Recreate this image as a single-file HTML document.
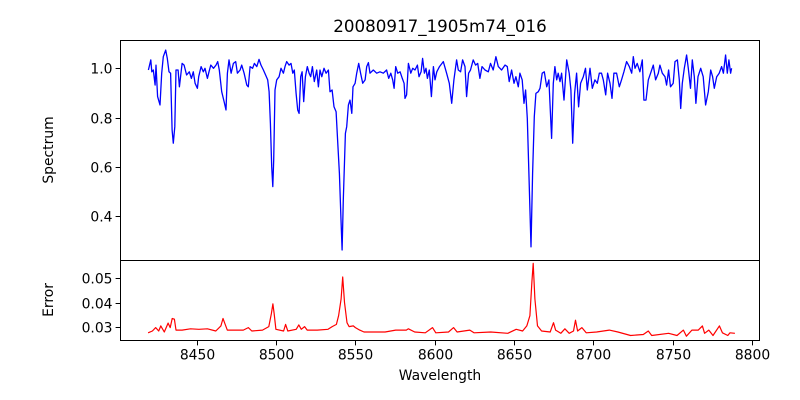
<!DOCTYPE html>
<html><head><meta charset="utf-8"><style>
body{margin:0;background:#fff}
svg{display:block;font-family:"DejaVu Sans","Liberation Sans",sans-serif}
</style></head><body>
<svg id="chart" width="800" height="400" xmlns="http://www.w3.org/2000/svg">
<rect width="800" height="400" fill="#fff"/>
<text x="440" y="32" text-anchor="middle" font-size="16.7">20080917_1905m74_016</text>
<text transform="translate(53,150) rotate(-90)" text-anchor="middle" font-size="13.9">Spectrum</text>
<text transform="translate(53,300) rotate(-90)" text-anchor="middle" font-size="13.9">Error</text>
<text x="440" y="380" text-anchor="middle" font-size="13.9">Wavelength</text>
<g id="g"></g>
</svg>
<script>
const specW=[8419.5,8421,8421.6,8422.6,8423.7,8424.3,8425.3,8426.8,8427.9,8428.9,8430.4,8431.4,8432.5,8433.5,8434.4,8435.2,8436.1,8436.9,8438.2,8439,8440.7,8442,8443.6,8445.3,8446.6,8447.8,8448.9,8450.4,8451.2,8452.7,8454.1,8455.2,8456.7,8457.7,8458.8,8460.5,8462.1,8463.2,8464.2,8465.7,8467.2,8468.4,8469.3,8470.3,8471.6,8473.1,8474.5,8475.6,8477.3,8478.3,8479.8,8481.5,8482.5,8483.6,8485.2,8486.3,8487.8,8489.2,8490.5,8492,8493.4,8494.7,8495.6,8496.4,8497.2,8497.9,8498.5,8499.3,8500.4,8501.9,8503.1,8504.6,8505.6,8506.7,8508.2,8509.4,8510.5,8511.5,8512.6,8513.6,8514.5,8515.5,8516.4,8517.4,8518.5,8519.7,8520.8,8521.8,8522.9,8524.1,8525.6,8526.7,8527.7,8528.8,8530.2,8531.5,8533,8534,8535.3,8536.5,8537.8,8538.8,8539.9,8540.9,8541.6,8542.4,8543.7,8544.5,8545.6,8546.6,8547.7,8548.5,8549.8,8550.8,8552.1,8553.3,8554.6,8556.1,8557.1,8558.2,8559.2,8561.3,8563.4,8565.5,8567.6,8569.7,8571,8572.3,8573.5,8574.4,8575.4,8576.7,8578.2,8579.6,8580.7,8581.3,8582.3,8583.4,8584.9,8586.1,8587.6,8589.1,8590.1,8591.4,8592.4,8593.5,8594.5,8595.4,8596.6,8597.9,8599.2,8600.2,8601.3,8603,8605.4,8607.5,8609.2,8610.7,8612.1,8613.8,8614.9,8616.3,8617.6,8619.1,8620.1,8621.4,8622.6,8624.3,8625.8,8627.1,8628.5,8629.8,8631.7,8633.8,8635.2,8636.9,8638.6,8640.1,8642.2,8644.3,8645.8,8647,8648.5,8650,8651.2,8652.7,8653.7,8655.2,8656.3,8657.3,8658.4,8659.4,8660.7,8661.7,8662.8,8663.8,8665.3,8666.4,8667.8,8669.1,8670.6,8672,8673.7,8674.8,8675.8,8676.9,8677.9,8679,8680,8681.5,8683.2,8684.8,8685.9,8687,8688.2,8689.5,8690.7,8692,8693.7,8695.1,8696.2,8697.9,8699.4,8701,8702.5,8703.8,8705.2,8706.3,8707.8,8709,8710.5,8711.8,8713,8714.7,8716.4,8717.8,8719.3,8721,8722.7,8724.2,8725.2,8726.3,8727.7,8729.4,8730.9,8731.9,8733.2,8734.7,8736.1,8737.8,8739.3,8741,8742,8743.5,8745.2,8746.2,8747.5,8748.7,8750.4,8751.5,8753,8754.2,8755.1,8756.1,8757.4,8758.8,8759.9,8761.3,8762.4,8763.7,8764.7,8766,8767.7,8769.3,8770.8,8772.5,8774,8775.2,8776.3,8777.8,8779.4,8780.9,8782,8783.4,8784.5,8785.5,8786.6,8787.2];
const specF=[0.993,1.034,0.986,0.993,0.932,1.013,0.885,0.851,0.980,1.047,1.074,1.04,0.986,0.980,0.750,0.696,0.763,0.993,0.993,0.925,1.020,1.013,0.973,0.986,0.959,0.986,0.939,0.919,0.966,1.007,0.986,1.0,0.959,0.986,1.013,1.0,1.013,1.027,0.993,0.905,0.865,0.831,0.980,1.034,0.980,1.020,1.027,0.980,0.993,1.013,0.980,0.932,0.925,1.007,1.0,1.020,1.007,1.036,1.013,0.993,0.973,0.953,0.905,0.777,0.601,0.520,0.628,0.912,0.953,0.966,1.0,0.980,1.007,1.027,1.013,1.020,0.980,0.993,0.898,0.831,0.817,0.966,0.986,0.865,0.966,1.007,0.980,0.966,1.007,0.946,0.993,0.925,0.993,0.966,1.0,0.980,0.993,0.905,0.912,0.844,0.824,0.709,0.574,0.385,0.263,0.466,0.736,0.763,0.851,0.871,0.817,0.925,0.939,0.980,1.020,0.980,0.939,0.953,1.007,1.023,0.980,0.993,0.980,0.986,0.980,0.993,0.959,0.980,0.953,0.919,1.007,0.980,0.986,0.959,0.939,0.878,0.892,1.020,0.980,1.0,0.993,1.013,0.966,0.986,1.040,0.980,1.0,0.959,0.993,0.885,1.007,0.953,0.986,1.007,1.027,0.980,0.939,0.858,0.953,1.034,0.993,0.986,1.034,1.007,0.885,0.980,0.993,1.034,1.013,1.020,0.959,1.007,0.993,0.986,1.020,0.993,1.047,1.007,0.993,1.013,1.007,0.946,0.993,0.939,0.966,0.925,0.980,0.953,0.858,0.912,0.797,0.574,0.276,0.574,0.804,0.898,0.905,0.919,0.980,0.986,0.925,0.953,0.716,0.939,1.007,0.953,0.980,0.946,0.980,0.871,1.034,0.980,0.912,0.696,0.898,0.980,0.844,0.939,0.966,1.0,0.912,1.0,0.919,0.953,0.939,0.980,0.980,0.953,0.892,0.980,0.939,0.878,0.980,0.980,0.925,0.953,0.986,1.027,1.007,0.980,1.047,1.0,1.020,0.986,1.034,0.871,0.871,0.953,0.980,1.013,0.953,0.980,1.013,0.980,0.966,0.932,0.993,0.925,0.939,1.027,1.034,0.953,0.837,0.939,1.0,1.054,1.0,0.919,1.034,0.966,0.858,0.966,1.0,0.966,0.851,0.905,0.993,0.966,0.919,0.966,0.980,1.007,0.980,1.054,0.980,1.034,0.980,1.0];
const errW=[8419.3,8422,8424.1,8426,8427.3,8429.5,8431.9,8433.2,8434.5,8435.9,8436.9,8440.7,8446,8451.3,8456.7,8462,8465.2,8466.5,8467.9,8469.2,8475.3,8479.3,8482.5,8484.7,8491.4,8495.4,8497,8498,8498.8,8499.9,8504.7,8506,8507.4,8512.7,8514.3,8515.9,8518,8519.6,8526,8532.7,8535.4,8538,8539.4,8541,8542,8543.1,8544.7,8546,8548.7,8550,8552.7,8555.4,8568.7,8575.4,8582.1,8583.4,8587.4,8594.1,8598.6,8600.7,8608.7,8611.9,8614.1,8622.1,8624.8,8635.4,8646.1,8651.4,8655.4,8658.1,8660,8661.3,8662.1,8663.2,8664.8,8667.4,8672.8,8674.9,8676.2,8679.5,8682.1,8684.8,8687.5,8688.8,8690.1,8692.8,8695.5,8702.1,8710.1,8715.5,8723.5,8731.5,8734.7,8736.8,8747.5,8752.8,8756.8,8758.7,8762.2,8766.2,8768.8,8770.2,8772.8,8775.5,8779.5,8781.4,8784.8,8786.2,8789.3];
const errV=[0.0278,0.0285,0.0299,0.0285,0.0306,0.0281,0.0317,0.0299,0.0336,0.0333,0.0289,0.0289,0.0294,0.0292,0.0294,0.0285,0.0306,0.0336,0.0312,0.0289,0.0289,0.0289,0.0299,0.0285,0.0289,0.0303,0.0354,0.0395,0.0354,0.0292,0.0285,0.0312,0.0285,0.0292,0.0310,0.0292,0.0303,0.0289,0.0289,0.0292,0.0303,0.0312,0.0347,0.0415,0.0504,0.0401,0.0319,0.0303,0.0306,0.0299,0.0289,0.0281,0.0281,0.0289,0.0289,0.0294,0.0281,0.0278,0.0299,0.0278,0.0281,0.0299,0.0281,0.0289,0.0278,0.0281,0.0276,0.0292,0.0285,0.0306,0.0347,0.0484,0.0559,0.0415,0.0306,0.0285,0.0281,0.0319,0.0289,0.0276,0.0294,0.0276,0.0285,0.0329,0.0285,0.0299,0.0278,0.0281,0.0289,0.0281,0.0267,0.0271,0.0285,0.0267,0.0276,0.0267,0.0289,0.0264,0.0289,0.0289,0.0306,0.0276,0.0289,0.0267,0.0306,0.0278,0.0267,0.0278,0.0276];
const xTicks=[8450,8500,8550,8600,8650,8700,8750,8800];
const specTicks=[0.4,0.6,0.8,1.0];
const errTicks=[0.03,0.04,0.05];

const L=120.5,R=759.5,T1=40.5,B1=260.5,B2=340.5;
const xs=w=>196.8+(w-8450)*1.586;
const ys=f=>68.3+(1.0-f)*246.5;
const ye=e=>278+(0.05-e)*2467;
const NS='http://www.w3.org/2000/svg';
const g=document.getElementById('g');
function mk(t,a){const e=document.createElementNS(NS,t);for(const k in a)e.setAttribute(k,a[k]);g.appendChild(e);return e;}

const sp=mk('path',{d:specW.map((w,i)=>(i?'L':'M')+xs(w).toFixed(1)+','+ys(specF[i]).toFixed(1)).join(''),fill:'none',stroke:'#0000ff','stroke-width':1.3,'stroke-linejoin':'round'});


const ep=mk('path',{d:errW.map((w,i)=>(i?'L':'M')+xs(w).toFixed(1)+','+ye(errV[i]).toFixed(1)).join(''),fill:'none',stroke:'#ff0000','stroke-width':1.2,'stroke-linejoin':'round'});



const f1=mk('rect',{x:L,y:T1,width:R-L,height:B1-T1,fill:'none',stroke:'#000','stroke-width':1});


const f2=mk('rect',{x:L,y:B1,width:R-L,height:B2-B1,fill:'none',stroke:'#000','stroke-width':1});



xTicks.forEach(t=>{const x=Math.round(xs(t))+0.5;
 const l=mk('line',{x1:x,x2:x,y1:B2,y2:B2+4.9,stroke:'#000'});
 
 
 const tx=mk('text',{x:x,y:B2+19,'text-anchor':'middle','font-size':13.9});tx.textContent=t;
 
 
});
specTicks.forEach(t=>{const y=Math.round(ys(t))+0.5;
 const l=mk('line',{x1:L-4.9,x2:L,y1:y,y2:y,stroke:'#000'});
 
 
 const tx=mk('text',{x:L-8,y:y+5,'text-anchor':'end','font-size':13.9});tx.textContent=t.toFixed(1);
 
 
});
errTicks.forEach(t=>{const y=Math.round(ye(t))+0.5;
 const l=mk('line',{x1:L-4.9,x2:L,y1:y,y2:y,stroke:'#000'});
 
 
 const tx=mk('text',{x:L-8,y:y+5,'text-anchor':'end','font-size':13.9});tx.textContent=t.toFixed(2);
 
 
});
</script>
</body></html>
